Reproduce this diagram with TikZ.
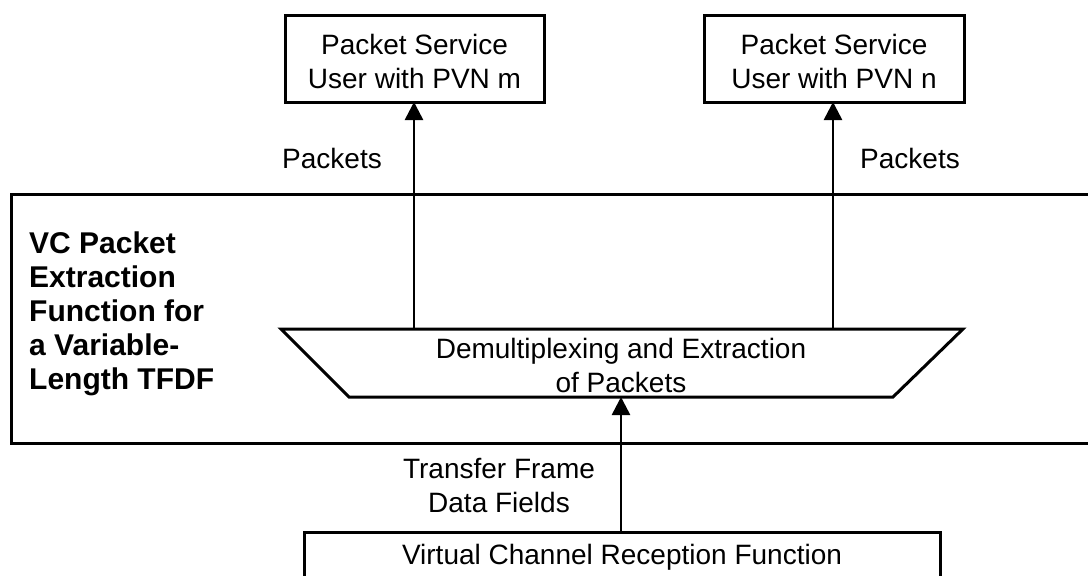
\documentclass[tikz,border=0pt]{standalone}
\usepackage{fontspec}
\setmainfont{Liberation Sans}
\usetikzlibrary{arrows.meta}
\begin{document}
\begin{tikzpicture}[x=1pt,y=-1pt,
  box/.style={draw,line width=3pt},
  lbl/.style={font=\fontsize{28}{34}\selectfont,align=center,inner sep=0pt},
  arr/.style={line width=2.6pt,-{Triangle[length=18pt,width=18pt]}}]
\useasboundingbox (0,0) rectangle (1088,576);
\begin{scope}
\clip (0,0) rectangle (1088,576);
% big function box (open to the right)
\draw[box] (1100,194) -- (11,194) -- (11,443) -- (1100,443);
% top boxes
\draw[box] (285,15) rectangle (544,102);
\node[lbl] (um) at (414.5,61) {Packet Service\\User with PVN m};
\coordinate (umb) at (414,102);
\draw[box] (704,15) rectangle (964,102);
\node[lbl] (un) at (834,61) {Packet Service\\User with PVN n};
\coordinate (unb) at (833,102);
% trapezoid
\draw[box,line join=miter] (281,329) -- (963,329) -- (893,397) -- (349,397) -- cycle;
\node[lbl] (dm) at (621,365) {Demultiplexing and Extraction\\of Packets};
\coordinate (tl) at (414,329);
\coordinate (tr) at (833,329);
\coordinate (tb) at (621,397);
% bottom box
\draw[box] (304,600) -- (304,532) -- (940,532) -- (940,600);
\node[lbl] (vc) at (622,557) {Virtual Channel Reception Function};
\coordinate (vct) at (621,532);
% arrows
\draw[arr] (tl) -- (umb);
\draw[arr] (tr) -- (unb);
\draw[arr] (vct) -- (tb);
% labels
\node[lbl] (pl) at (332,158) {Packets};
\node[lbl] (pr) at (910,158) {Packets};
\node[lbl] (tf) at (499,485) {Transfer Frame\\Data Fields};
\node[font=\bfseries\fontsize{30}{34}\selectfont,align=left,inner sep=0pt,anchor=north west] (vcp) at (29,232) {VC Packet\\Extraction\\Function for\\a Variable-\\Length TFDF};
\end{scope}
\end{tikzpicture}
\end{document}
